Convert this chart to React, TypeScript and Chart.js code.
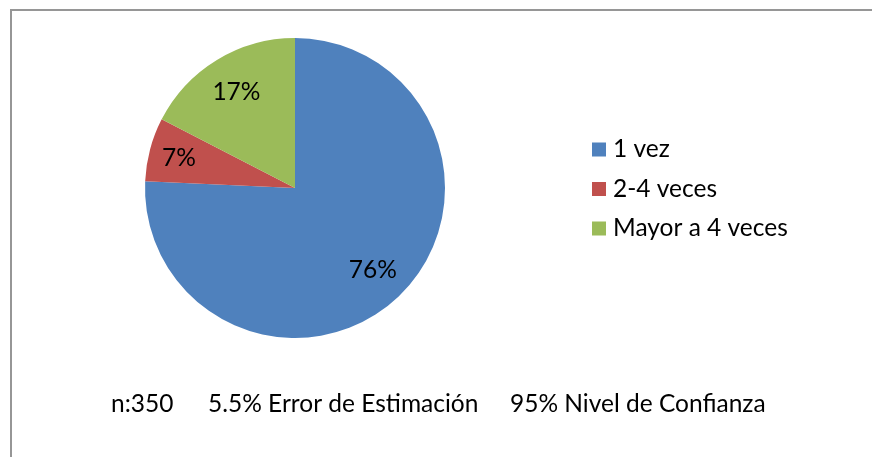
import React, { useEffect, useRef } from "react";
import { Chart, registerables } from "chart.js";

Chart.register(...registerables);

// ---- data ----
const categories = ["1 vez", "2-4 veces", "Mayor a 4 veces"];
const counts = [265, 24, 61];
const colors = ["#4F81BD", "#C0504D", "#9BBB59"];
const footerParts = ["n:350", "5.5% Error de Estimación", "95% Nivel de Confianza"];

const FONT = "Lato, 'Open Sans', sans-serif";
const FONT_SIZE = 24.5;

const sliceLabels = {
  id: "sliceLabels",
  afterDatasetsDraw(chart: any) {
    const ctx = chart.ctx;
    const meta = chart.getDatasetMeta(0);
    const data = chart.data.datasets[0].data as number[];
    const total = data.reduce((a, b) => a + b, 0);
    ctx.save();
    ctx.font = `${FONT_SIZE}px ${FONT}`;
    ctx.fillStyle = "#000";
    ctx.textAlign = "center";
    ctx.textBaseline = "alphabetic";
    meta.data.forEach((arc: any, i: number) => {
      const p = arc.getProps(["x", "y", "startAngle", "endAngle", "outerRadius"], true);
      const mid = (p.startAngle + p.endAngle) / 2;
      const pct = data[i] / total;
      const f = pct < 0.1 ? 0.8 : 0.75;
      const lx = p.x + Math.cos(mid) * p.outerRadius * f;
      const ly = p.y + Math.sin(mid) * p.outerRadius * f;
      ctx.fillText(Math.round(pct * 100) + "%", lx, ly + 8.5);
    });
    ctx.restore();
  },
};

const sideLegend = {
  id: "sideLegend",
  afterDraw(chart: any) {
    const ctx = chart.ctx;
    const labels = chart.data.labels as string[];
    const bg = chart.data.datasets[0].backgroundColor as string[];
    ctx.save();
    ctx.font = `${FONT_SIZE}px ${FONT}`;
    ctx.textAlign = "left";
    ctx.textBaseline = "alphabetic";
    labels.forEach((lab, i) => {
      const base = 157 + 39.5 * i;
      ctx.fillStyle = bg[i];
      ctx.fillRect(592, base - 14.5, 14, 14);
      ctx.fillStyle = "#000";
      ctx.fillText(lab, 613, base);
    });
    // footer note
    const xs = [111, 208, 510];
    footerParts.forEach((t, i) => {
      ctx.fillText(t, xs[i], 412);
    });
    ctx.restore();
  },
};

export default function App() {
  const ref = useRef<HTMLCanvasElement | null>(null);
  useEffect(() => {
    if (!ref.current) return;
    const chart = new Chart(ref.current, {
      type: "pie",
      data: {
        labels: categories,
        datasets: [
          {
            data: counts,
            backgroundColor: colors,
            borderWidth: 0,
          },
        ],
      },
      options: {
        responsive: false,
        animation: false,
        layout: { padding: { left: 145, right: 427, top: 38, bottom: 119 } },
        plugins: {
          legend: { display: false },
          tooltip: { enabled: false },
        },
      },
      plugins: [sliceLabels, sideLegend],
    } as any);
    return () => chart.destroy();
  }, []);

  return (
    <div
      style={{
        position: "absolute",
        left: 0,
        top: 0,
        width: 872,
        height: 457,
        overflow: "hidden",
        background: "#fff",
      }}
    >
      <canvas ref={ref} width={872} height={457} style={{ position: "absolute", left: 0, top: 0 }} />
      <div
        style={{
          position: "absolute",
          left: 10,
          top: 9,
          width: 900,
          height: 500,
          borderLeft: "2px solid #969696",
          borderTop: "2px solid #969696",
          pointerEvents: "none",
        }}
      />
    </div>
  );
}
